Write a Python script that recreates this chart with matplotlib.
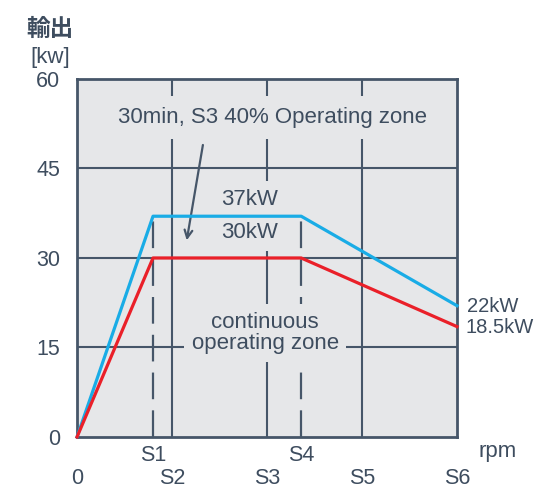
import matplotlib.pyplot as plt

plt.rcParams["font.family"] = ["Liberation Sans", "Noto Sans CJK JP", "DejaVu Sans"]

# x positions: 0, S2, S3, S5, S6 are evenly spaced; S1 and S4 sit between them
X_MAJOR = [0, 1, 2, 3, 4]
X_MAJOR_LABELS = ["0", "S2", "S3", "S5", "S6"]
X_MINOR = [0.80, 2.36]
X_MINOR_LABELS = ["S1", "S4"]
Y_TICKS = [0, 15, 30, 45, 60]

# output curves (kW)
CURVE_X = [0, 0.80, 2.36, 4]
S3_40_KW = [0, 37, 37, 22]
CONT_KW = [0, 30, 30, 18.5]

BG = "#e6e7e9"
INK = "#465669"
TEXT = "#3e4d5f"
BLUE = "#19ace6"
RED = "#ea2029"

fig = plt.figure(figsize=(5.36, 4.87), dpi=100)
ax = fig.add_axes([0.1437, 0.1027, 0.7089, 0.7351])
ax.set_facecolor(BG)

ax.set_xlim(0, 4)
ax.set_ylim(0, 60)

# grid
for x in X_MAJOR[1:-1]:
    ax.axvline(x, color=INK, lw=1.5, zorder=1)
for y in Y_TICKS[1:-1]:
    ax.axhline(y, color=INK, lw=1.5, zorder=1)
ax.vlines(X_MINOR, 0, 37, colors=INK, lw=1.6, linestyles=(0, (12, 5)), zorder=1)

for side in ax.spines.values():
    side.set_color(INK)
    side.set_linewidth(2)

ax.plot(CURVE_X, S3_40_KW, color=BLUE, lw=2.3, zorder=4, clip_on=False)
ax.plot(CURVE_X, CONT_KW, color=RED, lw=2.3, zorder=4, clip_on=False)

ax.set_yticks(Y_TICKS)
ax.set_xticks(X_MAJOR)
ax.set_xticklabels(X_MAJOR_LABELS)
ax.set_xticks(X_MINOR, minor=True)
ax.set_xticklabels(X_MINOR_LABELS, minor=True)
ax.tick_params(axis="both", which="both", length=0, labelsize=15.5, labelcolor=TEXT)
ax.tick_params(axis="y", pad=12)
ax.tick_params(axis="x", which="major", pad=22)
ax.tick_params(axis="x", which="minor", pad=6)

box = dict(facecolor=BG, edgecolor="none", pad=0.35, boxstyle="square")
ax.text(2.06, 53.6, "30min, S3 40% Operating zone", ha="center", va="center",
        fontsize=16, color=TEXT, bbox=dict(box, pad=0.5), zorder=2)
ax.text(1.82, 39.8, "37kW", ha="center", va="center", fontsize=16, color=TEXT,
        bbox=box, zorder=2)
ax.text(1.82, 34.2, "30kW", ha="center", va="center", fontsize=16, color=TEXT,
        bbox=box, zorder=2)
ax.text(1.98, 17.4, "continuous\noperating zone", ha="center", va="center",
        fontsize=16, color=TEXT, linespacing=1.0, bbox=box, zorder=2)

ax.annotate("", xy=(1.15, 32.5), xytext=(1.33, 49.4),
            arrowprops=dict(arrowstyle="->", color=INK, lw=1.6,
                            mutation_scale=14), zorder=3)

ax.text(4.11, 21.8, "22kW", ha="left", va="center", fontsize=14.5, color=TEXT,
        clip_on=False)
ax.text(4.09, 18.3, "18.5kW", ha="left", va="center", fontsize=14.5, color=TEXT,
        clip_on=False)

fig.text(498 / 536, 1 - 452 / 487, "rpm", ha="center", va="center",
         fontsize=16, color=TEXT)
fig.text(50 / 536, 1 - 29 / 487, "輸出", ha="center", va="center",
         fontsize=17, color=TEXT, fontweight="bold",
         family=["Noto Sans CJK JP", "DejaVu Sans"])
fig.text(50 / 536, 1 - 57 / 487, "[kw]", ha="center", va="center",
         fontsize=16, color=TEXT)

fig.savefig("out.png", dpi=100)
